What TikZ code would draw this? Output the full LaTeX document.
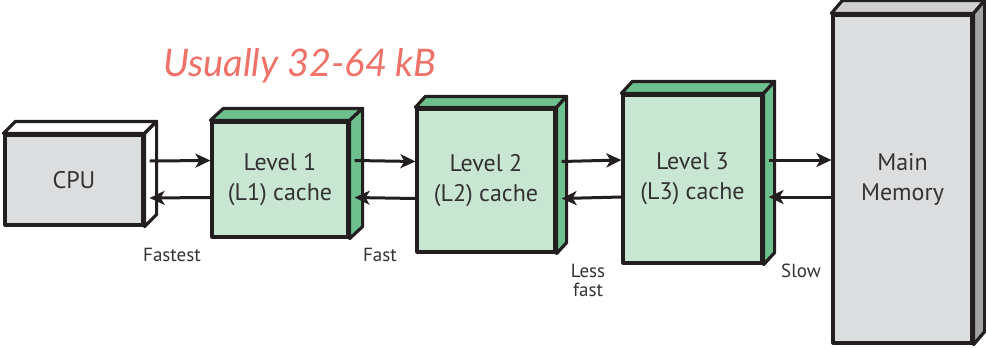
\documentclass[tikz,border=0pt]{standalone}
\usepackage{fontspec}
\setmainfont{PT Sans}
\newfontfamily\handfont{Lato}
\usetikzlibrary{arrows.meta,calc}

\definecolor{edge}{RGB}{35,31,32}
\definecolor{greenfront}{RGB}{201,230,211}
\definecolor{greenside}{RGB}{110,193,143}
\definecolor{greyfront}{RGB}{220,221,223}
\definecolor{greyside}{RGB}{163,163,166}
\definecolor{greytop}{RGB}{208,208,210}
\definecolor{notecol}{RGB}{240,113,103}
\definecolor{labelcol}{RGB}{50,50,50}

\tikzset{
  face/.style={draw=edge, line width=3.2pt, line join=round},
  frontbox/.style={face, rectangle, inner sep=0pt, align=center,
                   font=\fontsize{24}{30}\selectfont, text=labelcol},
  link/.style={draw=edge, line width=3pt,
               -{Stealth[length=15pt,width=14pt,inset=4pt]}},
  speed/.style={font=\fontsize{19}{19}\selectfont, text=labelcol, align=center,
                inner sep=0pt},
}

% cube front face plus top and side faces; #1 name, #2 depth x, #3 depth y,
% #4 side colour, #5 top colour
\newcommand{\cubefaces}[5]{%
  \path[face, fill=#5] (#1.north west) -- ++(#2,-#3)
      -- ($(#1.north east)+(#2,-#3)$) -- (#1.north east) -- cycle;
  \path[face, fill=#4] (#1.north east) -- ++(#2,-#3)
      -- ($(#1.south east)+(#2,-#3)$) -- (#1.south east) -- cycle;
}

\begin{document}
\begin{tikzpicture}[x=1pt, y=-1pt]
  \useasboundingbox (0,0) rectangle (986,348);

  % note above the first cache
  \node[font=\handfont\itshape\fontsize{38}{38}\selectfont, text=notecol,
        anchor=base west, inner sep=0pt] (note) at (163,76) {Usually 32-64 kB};

  % front faces
  \node[frontbox, fill=greyfront, minimum width=138pt, minimum height=90pt]
       (cpu) at (74,180) {CPU};
  \node[frontbox, fill=greenfront, minimum width=136pt, minimum height=115pt]
       (l1) at (280,179.5) {Level 1\\(L1) cache};
  \node[frontbox, fill=greenfront, minimum width=138pt, minimum height=143pt]
       (l2) at (486,180.5) {Level 2\\(L2) cache};
  \node[frontbox, fill=greenfront, minimum width=139pt, minimum height=168pt]
       (l3) at (692.5,179) {Level 3\\(L3) cache};
  \node[frontbox, fill=greyfront, minimum width=139pt, minimum height=328pt]
       (mem) at (902.5,179) {Main\\Memory};

  % top and side faces
  \cubefaces{cpu}{12}{12}{white}{white}
  \cubefaces{l1}{13}{12}{greenside}{greenside}
  \cubefaces{l2}{10}{11}{greenside}{greenside}
  \cubefaces{l3}{11}{12}{greenside}{greenside}
  \cubefaces{mem}{11}{13}{greyside}{greytop}

  % data paths between the levels
  \foreach \a/\b in {cpu/l1, l1/l2, l2/l3, l3/mem} {
    \draw[link] ($(\a.east)+(5,-19)$) -- ($(\b.west)+(0,-19)$);
    \draw[link] ($(\b.west)+(0,18)$) -- ($(\a.east)+(5,18)$);
  }

  % speed labels
  \node[speed] (s1) at (172,255) {Fastest};
  \node[speed] (s2) at (380,255) {Fast};
  \node[speed] (s3) at (588,280) {Less\\fast};
  \node[speed] (s4) at (801,271) {Slow};
\end{tikzpicture}
\end{document}
